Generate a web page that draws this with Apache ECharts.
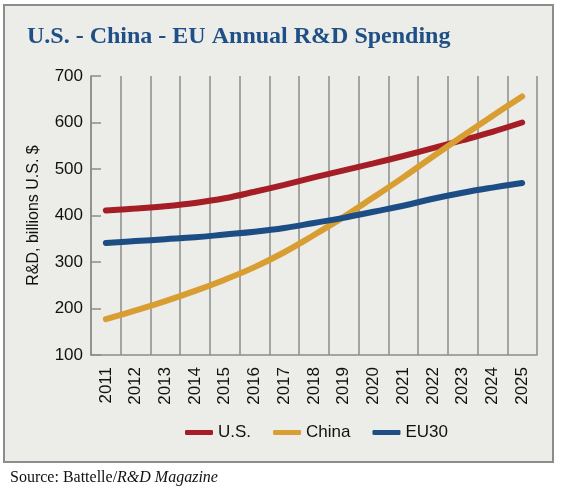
<!DOCTYPE html>
<html>
<head>
<meta charset="utf-8">
<script src="https://cdn.jsdelivr.net/npm/echarts@6/dist/echarts.min.js"></script>
<style>
html,body{margin:0;padding:0;background:#fff;}
#chart{width:561px;height:489px;}
</style>
</head>
<body>
<div id="chart"></div>
<script>
const years = ['2011','2012','2013','2014','2015','2016','2017','2018','2019','2020','2021','2022','2023','2024','2025'];
const usValues = [411, 415, 420, 427, 437, 451, 466, 482, 497, 512, 528, 545, 562, 580, 600];
const chinaValues = [177, 196, 216, 238, 262, 289, 321, 358, 397, 439, 482, 527, 571, 614, 656];
const euValues = [341, 345, 349, 353, 359, 365, 373, 384, 395, 408, 421, 436, 449, 460, 470];
const seriesNames = ['U.S.', 'China', 'EU30'];
const yTicks = [100, 700, 100]; // min, max, interval

const colors = ['#A61E25', '#D89E31', '#1C4E85'];
const font = 'Liberation Sans, Arial, sans-serif';

const chart = echarts.init(document.getElementById('chart'), null, {renderer: 'canvas'});
const mkSeries = (name, data, color) => ({
  name: name, type: 'line', data: data, smooth: 0.4, symbol: 'none',
  lineStyle: {color: color, width: 6, cap: 'round'}, itemStyle: {color: color}
});
chart.setOption({
  backgroundColor: '#ffffff',
  animation: false,
  graphic: [
    {type: 'rect', z: -10, shape: {x: 4, y: 5, width: 549, height: 457},
     style: {fill: '#ECECE8', stroke: '#8C8C8C', lineWidth: 2}},
    {type: 'text', left: 27, top: 25,
     style: {text: 'U.S. - China - EU Annual R&D Spending', font: 'bold 24px "Liberation Serif", serif', fill: '#1E4F86'}},
    {type: 'text', left: 10, top: 470,
     style: {
       text: '{a|Source: Battelle/}{b|R&D Magazine}',
       rich: {
         a: {font: '16px "Liberation Serif", serif', fill: '#111'},
         b: {font: 'italic 16px "Liberation Serif", serif', fill: '#111'}
       }
     }}
  ],
  grid: {left: 91, right: 24, top: 76, bottom: 134, containLabel: false},
  legend: {
    data: seriesNames, bottom: 43, left: 180,
    itemWidth: 28, itemHeight: 5, itemGap: 22,
    icon: 'roundRect',
    textStyle: {fontFamily: font, fontSize: 17, color: '#111'}
  },
  xAxis: {
    type: 'category', data: years, boundaryGap: true,
    axisLine: {show: true, lineStyle: {color: '#8C8C8C', width: 1.5}},
    axisTick: {show: false},
    splitLine: {show: true, lineStyle: {color: '#8C8C8C', width: 1.5}},
    axisLabel: {rotate: 90, fontFamily: font, fontSize: 17, color: '#111', margin: 12, interval: 0}
  },
  yAxis: {
    type: 'value', min: yTicks[0], max: yTicks[1], interval: yTicks[2],
    name: 'R&D, billions U.S. $', nameLocation: 'middle', nameGap: 49,
    nameTextStyle: {fontFamily: font, fontSize: 16, color: '#111'},
    axisLine: {show: true, lineStyle: {color: '#8C8C8C', width: 1.5}},
    axisTick: {show: true, inside: true, length: 10, lineStyle: {color: '#8C8C8C', width: 1.5}},
    splitLine: {show: false},
    axisLabel: {fontFamily: font, fontSize: 17, color: '#111', margin: 8}
  },
  series: [
    mkSeries(seriesNames[0], usValues, colors[0]),
    mkSeries(seriesNames[1], chinaValues, colors[1]),
    mkSeries(seriesNames[2], euValues, colors[2])
  ]
});
</script>
</body>
</html>
